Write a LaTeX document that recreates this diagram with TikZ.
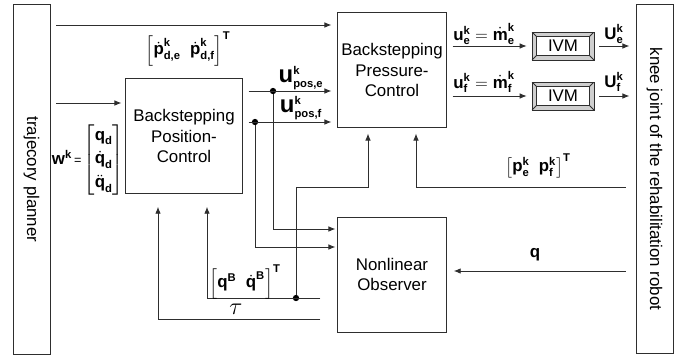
\documentclass[tikz,border=0pt]{standalone}
\usepackage{amsmath}
\usepackage{fontspec}
\setmainfont{Liberation Sans}
\usetikzlibrary{arrows.meta, positioning, calc}
\definecolor{ink}{HTML}{2E2E2E}
\definecolor{bevel}{HTML}{CFCFCF}
\newcommand{\bv}[1]{\text{\bfseries #1}}
\newcommand{\bvbig}[1]{\text{\fontsize{17}{17}\selectfont\bfseries #1}}

\tikzset{
  blockbox/.style={draw=ink, line width=0.7pt, inner sep=0pt, align=center,
    font=\fontsize{12}{14.5}\selectfont},
  ivmbox/.style={blockbox, fill=bevel, minimum width=1.55cm, minimum height=0.7cm,
    path picture={
      \draw[ink, fill=white] ([shift={(0.11cm,-0.11cm)}]path picture bounding box.north west)
        rectangle ([shift={(-0.11cm,0.11cm)}]path picture bounding box.south east);
      \draw[ink] (path picture bounding box.north west) -- ++(0.11cm,-0.11cm);
      \draw[ink] (path picture bounding box.north east) -- ++(-0.11cm,-0.11cm);
      \draw[ink] (path picture bounding box.south west) -- ++(0.11cm,0.11cm);
      \draw[ink] (path picture bounding box.south east) -- ++(-0.11cm,0.11cm);
    }},
  sig/.style={draw=ink, line width=0.7pt, -{Latex[length=5pt,width=4pt]}},
  junction/.style={circle, fill=black, inner sep=0pt, minimum size=4.5pt},
  siglabel/.style={font=\fontsize{12}{14}\selectfont, inner sep=1pt},
}

\begin{document}
\begin{tikzpicture}[x=0.025cm, y=-0.025cm]
  \useasboundingbox (0,0) rectangle (684,358);

  % ── Blocks ──────────────────────────────────────────────────────────────
  \node[blockbox, minimum width=0.925cm, minimum height=8.725cm] (traj) at (31.5,179.5)
    {\rotatebox{-90}{trajecory planner}};
  \node[blockbox, minimum width=0.925cm, minimum height=8.7cm] (knee) at (654.5,179)
    {\rotatebox{-90}{knee joint of the rehabilitation robot}};
  \node[blockbox, minimum width=2.9cm, minimum height=2.85cm] (pos) at (184,136)
    {Backstepping\\Position-\\Control};
  \node[blockbox, minimum width=2.7cm, minimum height=2.85cm] (press) at (392,70)
    {Backstepping\\Pressure-\\Control};
  \node[blockbox, minimum width=2.7cm, minimum height=2.875cm] (obs) at (392,274.5)
    {Nonlinear\\Observer};
  \node[ivmbox] (ivme) at (563,46) {IVM};
  \node[ivmbox] (ivmf) at (563,96) {IVM};

  % ── Branch points ───────────────────────────────────────────────────────
  \node[junction] (jpe) at (273,91) {};
  \node[junction] (jpf) at (255,122) {};
  \node[junction] (jqb) at (296,298) {};

  % ── Reference signals from the planner ──────────────────────────────────
  \draw[sig, shorten <=0.15cm, shorten >=0.15cm] (traj.east |- 0,25) -- (press.west |- 0,25);
  \draw[sig, shorten <=0.15cm, shorten >=0.1cm] (traj.east |- 0,103) -- (pos.west |- 0,103);

  % ── Position controller outputs ─────────────────────────────────────────
  \draw[sig, shorten <=0.15cm, shorten >=0.15cm] (pos.east |- jpe) -- (press.west |- jpe);
  \draw[sig, shorten <=0.15cm, shorten >=0.15cm] (pos.east |- jpf) -- (press.west |- jpf);
  \draw[sig, shorten >=0.05cm] (jpe) |- (obs.west |- 0,229);
  \draw[sig, shorten >=0.05cm] (jpf) |- (obs.west |- 0,247);

  % ── Observer feedback ───────────────────────────────────────────────────
  \draw[sig, shorten <=0.43cm, shorten >=0.33cm] (obs.west |- jqb) -| (pos.south -| 207,0);
  \draw[sig, shorten <=0.43cm, shorten >=0.33cm] (obs.west |- 0,319) -| (pos.south -| 158,0);
  \draw[sig, shorten >=0.15cm] (jqb) |- (368,187) -- (press.south -| 368,0);

  % ── Plant measurements ──────────────────────────────────────────────────
  \draw[sig, shorten <=0.25cm, shorten >=0.15cm] (knee.west |- 0,187) -| (press.south -| 416,0);
  \draw[sig, shorten <=0.25cm, shorten >=0.18cm] (knee.west |- 0,271) -- (obs.east |- 0,271);

  % ── Pressure control to valves to robot ─────────────────────────────────
  \draw[sig, shorten <=0.15cm, shorten >=0.12cm] (press.east |- ivme) -- (ivme.west);
  \draw[sig, shorten <=0.15cm, shorten >=0.12cm] (press.east |- ivmf) -- (ivmf.west);
  \draw[sig, shorten <=0.12cm, shorten >=0.15cm] (ivme.east) -- (knee.west |- ivme);
  \draw[sig, shorten <=0.12cm, shorten >=0.15cm] (ivmf.east) -- (knee.west |- ivmf);

  % ── Signal labels ───────────────────────────────────────────────────────
  \node[siglabel] (lpd) at (188,49)
    {$\left[\dot{\bv{p}}^{\bv{k}}_{\bv{d,e}}\;\;\dot{\bv{p}}^{\bv{k}}_{\bv{d,f}}\right]^{\bv{T}}$};
  \node[siglabel] (lw) at (88,160)
    {$\bv{w}^{\bv{k}}\text{\fontsize{9}{9}\selectfont\,=\,}\!\setlength\arraycolsep{2pt}%
      \begin{bmatrix}\bv{q}_{\bv{d}}\\[3pt] \dot{\bv{q}}_{\bv{d}}\\[3pt] \ddot{\bv{q}}_{\bv{d}}\end{bmatrix}$};
  \node[siglabel] (lue) at (301,78) {$\bvbig{u}^{\bv{k}}_{\bv{pos,e}}$};
  \node[siglabel] (luf) at (301,108) {$\bvbig{u}^{\bv{k}}_{\bv{pos,f}}$};
  \node[siglabel] (lme) at (484,34) {$\bv{u}^{\bv{k}}_{\bv{e}} = \dot{\bv{m}}^{\bv{k}}_{\bv{e}}$};
  \node[siglabel] (lmf) at (484,82) {$\bv{u}^{\bv{k}}_{\bv{f}} = \dot{\bv{m}}^{\bv{k}}_{\bv{f}}$};
  \node[siglabel] (lUe) at (614,34) {$\bv{U}^{\bv{k}}_{\bv{e}}$};
  \node[siglabel] (lUf) at (614,82) {$\bv{U}^{\bv{k}}_{\bv{f}}$};
  \node[siglabel] (lp) at (538,166)
    {$\left[\bv{p}^{\bv{k}}_{\bv{e}}\;\;\bv{p}^{\bv{k}}_{\bv{f}}\right]^{\bv{T}}$};
  \node[siglabel] (lq) at (535,255) {$\bv{q}$};
  \node[siglabel] (lqb) at (245,282)
    {$\left[\bv{q}^{\bv{B}}\;\;\dot{\bv{q}}^{\bv{B}}\right]^{\bv{T}}$};
  \node[siglabel] (ltau) at (236,309) {\fontsize{16}{16}\selectfont$\tau$};
\end{tikzpicture}
\end{document}
